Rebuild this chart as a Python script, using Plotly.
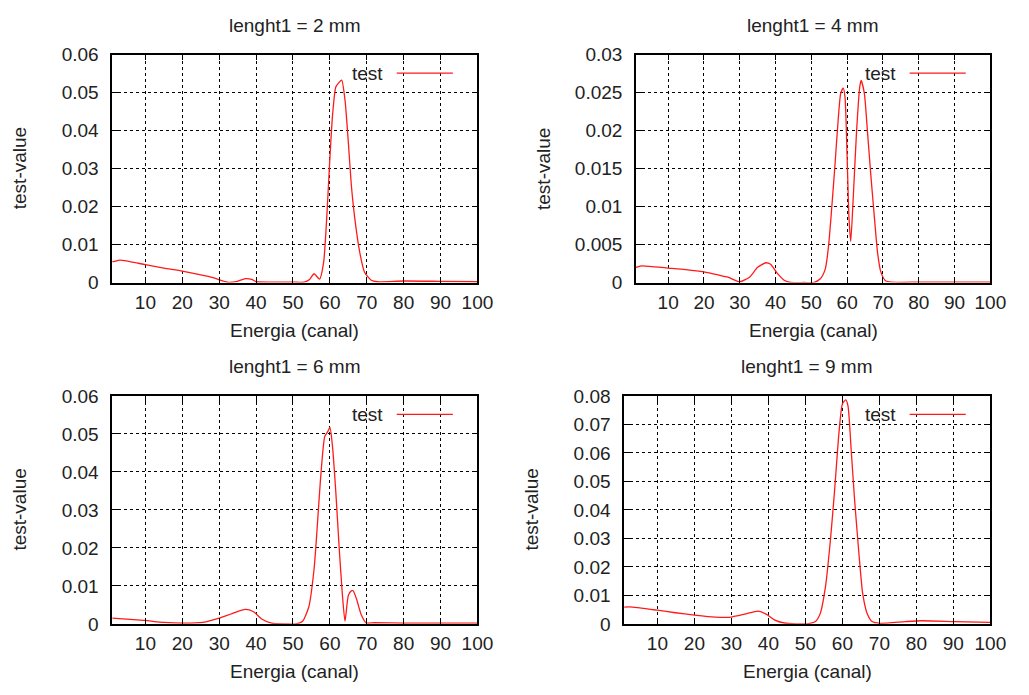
import plotly.graph_objects as go

# Energy spectra for four values of lenght1
x_2mm = [1, 1.4, 3.1, 10, 15, 20, 24.7, 28.3, 30.9, 32.7, 34.9, 37.1, 38.8, 40.1, 45, 50, 53, 54.5,
         55.7, 57.2, 58.3, 59.2, 59.9, 60.7, 61.6, 62.5, 63.2, 64.1, 65, 65.8, 66.7, 68.1, 69.4, 71.2,
         72.9, 80, 90, 100]
y_2mm = [0.0055, 0.0055, 0.0059, 0.0047, 0.0038, 0.003, 0.0021, 0.0013, 0.0004, 0.0, 0.0003, 0.001,
         0.0008, 0.0002, 0.0001, 0.0001, 0.0001, 0.0008, 0.0023, 0.0009, 0.0053, 0.018, 0.031, 0.0438,
         0.0515, 0.0527, 0.0533, 0.048, 0.0369, 0.0258, 0.0173, 0.0079, 0.0027, 0.0006, 0.0002, 0.0004,
         0.0003, 0.0002]

x_4mm = [1, 2.5, 10, 14.9, 20, 24, 26.7, 30, 32.7, 35, 37.3, 38.6, 40.5, 42.4, 44.2, 48, 50.6, 52.5,
         53.9, 54.8, 55.7, 56.6, 57.5, 58.2, 58.9, 59.4, 60, 60.5, 61, 61.7, 62.6, 63.5, 63.9, 64.8, 65.7,
         66.6, 67.6, 68.5, 69.4, 70.8, 80, 90, 100]
y_4mm = [0.002, 0.0022, 0.0019, 0.0017, 0.0014, 0.001, 0.0007, 0.0001, 0.0007, 0.002, 0.0026, 0.0024,
         0.0012, 0.0003, 0.0, 0.0, 0.0, 0.0005, 0.0018, 0.0048, 0.0099, 0.0155, 0.0215, 0.0249, 0.0256,
         0.0244, 0.0163, 0.0086, 0.0054, 0.0112, 0.0197, 0.0257, 0.0266, 0.0249, 0.0197, 0.0142, 0.0086,
         0.0039, 0.0014, 0.0002, 0.00005, 0.00005, 0.00005]

x_6mm = [1, 9.6, 15, 20, 25.6, 30, 33.5, 37.1, 39.3, 41.5, 44.2, 48, 50.8, 52.6, 54.3, 55.7, 56.5, 57.4,
         58.6, 59.4, 60, 60.7, 61.6, 62.5, 63.4, 64.1, 65, 65.8, 66.3, 67.2, 68.5, 69.8, 72, 80, 90, 100]
y_6mm = [0.0015, 0.0009, 0.0004, 0.0002, 0.0004, 0.0015, 0.0027, 0.0038, 0.0032, 0.0013, 0.0002, 0.0,
         0.0, 0.0007, 0.0045, 0.0143, 0.0245, 0.0373, 0.0493, 0.0506, 0.0517, 0.0468, 0.0348, 0.0203,
         0.0075, 0.0007, 0.0075, 0.0087, 0.0087, 0.0066, 0.0024, 0.0003, 0.0003, 0.0002, 0.0002, 0.0002]

x_9mm = [1, 2.5, 10, 14.8, 20, 25.6, 30, 33.6, 37.2, 39.4, 41.6, 44.3, 50.4, 52.7, 54, 55.4, 56.8, 57.9,
         59.1, 60, 60.9, 61.5, 62.4, 63.3, 64.5, 65.5, 66.7, 68, 70.2, 77, 81.5, 90.4, 100]
y_9mm = [0.0059, 0.006, 0.0048, 0.0039, 0.0031, 0.0024, 0.0024, 0.0034, 0.0045, 0.0034, 0.0014, 0.0003,
         0.0, 0.0008, 0.0036, 0.0128, 0.0299, 0.047, 0.0675, 0.0772, 0.0786, 0.0766, 0.0606, 0.0435,
         0.0242, 0.0105, 0.0036, 0.0008, 0.0002, 0.0008, 0.0011, 0.0008, 0.0005]

titles = ["lenght1 = 2 mm", "lenght1 = 4 mm", "lenght1 = 6 mm", "lenght1 = 9 mm"]
series = [(x_2mm, y_2mm), (x_4mm, y_4mm), (x_6mm, y_6mm), (x_9mm, y_9mm)]

x_ticks = [10, 20, 30, 40, 50, 60, 70, 80, 90, 100]
y_ticks = [
    ([0, 0.01, 0.02, 0.03, 0.04, 0.05, 0.06], ["0", "0.01", "0.02", "0.03", "0.04", "0.05", "0.06"]),
    ([0, 0.005, 0.01, 0.015, 0.02, 0.025, 0.03], ["0", "0.005", "0.01", "0.015", "0.02", "0.025", "0.03"]),
    ([0, 0.01, 0.02, 0.03, 0.04, 0.05, 0.06], ["0", "0.01", "0.02", "0.03", "0.04", "0.05", "0.06"]),
    ([0, 0.01, 0.02, 0.03, 0.04, 0.05, 0.06, 0.07, 0.08],
     ["0", "0.01", "0.02", "0.03", "0.04", "0.05", "0.06", "0.07", "0.08"]),
]
y_max = [0.06, 0.03, 0.06, 0.08]

W, H = 1029, 695
# panel boxes in pixels: left, right, top, bottom
boxes = [(114, 485, 46, 281), (646, 1006, 46, 281), (114, 485, 398, 633), (634, 1006, 398, 633)]

FONT = "Liberation Sans, Arial, sans-serif"
TXT = "#222222"
RED = "#ff1a1a"

fig = go.Figure()
annotations = []
shapes = []

for i, ((xs, ys), title, (tv, tt), ym, box) in enumerate(zip(series, titles, y_ticks, y_max, boxes)):
    n = "" if i == 0 else str(i + 1)
    xa, ya = "x" + n, "y" + n
    l, r, t, b = box
    fig.add_trace(go.Scatter(
        x=xs, y=ys, mode="lines", name="test", showlegend=False,
        line=dict(color=RED, width=1.3, shape="spline", smoothing=0.6),
        xaxis=xa, yaxis=ya,
    ))
    axis_common = dict(
        showline=True, linecolor="black", linewidth=1.5, mirror="ticks",
        ticks="inside", ticklen=6, tickcolor="black", tickwidth=1,
        showgrid=True, gridcolor="black", gridwidth=1, griddash="dot",
        zeroline=False, tickfont=dict(family=FONT, size=19, color=TXT),
    )
    fig.layout["xaxis" + n] = dict(
        axis_common, domain=[l / W, r / W], range=[1, 100],
        tickvals=x_ticks, anchor=ya, ticklabelstandoff=2,
    )
    fig.layout["yaxis" + n] = dict(
        axis_common, domain=[1 - b / H, 1 - t / H], range=[0, ym],
        tickvals=tv, ticktext=tt, anchor=xa, ticklabelstandoff=8,
    )
    cx = (l + r) / 2 / W
    # panel title
    annotations.append(dict(text=title, x=cx, y=1 - (t - 30) / H, xref="paper", yref="paper",
                            showarrow=False, font=dict(family=FONT, size=19, color=TXT),
                            xanchor="center", yanchor="middle"))
    # axis titles
    annotations.append(dict(text="Energia (canal)", x=cx, y=1 - (b + 49) / H, xref="paper",
                            yref="paper", showarrow=False,
                            font=dict(family=FONT, size=19, color=TXT),
                            xanchor="center", yanchor="middle"))
    annotations.append(dict(text="test-value", x=(l - 94) / W, y=1 - (t + b) / 2 / H, xref="paper",
                            yref="paper", showarrow=False, textangle=-90,
                            font=dict(family=FONT, size=19, color=TXT),
                            xanchor="center", yanchor="middle"))
    # key: label followed by a line sample, top right inside the panel
    annotations.append(dict(text="test", x=(r - 94) / W, y=1 - (t + 19) / H, xref="paper",
                            yref="paper", showarrow=False,
                            font=dict(family=FONT, size=19, color=TXT),
                            xanchor="right", yanchor="middle"))
    shapes.append(dict(type="line", xref="paper", yref="paper",
                       x0=(r - 82) / W, x1=(r - 25) / W,
                       y0=1 - (t + 19) / H, y1=1 - (t + 19) / H,
                       line=dict(color=RED, width=1.3)))

fig.update_layout(
    width=W, height=H, margin=dict(l=0, r=0, t=0, b=0),
    paper_bgcolor="white", plot_bgcolor="white",
    annotations=annotations, shapes=shapes,
    font=dict(family=FONT, color=TXT),
)

fig.write_html("out.html")
